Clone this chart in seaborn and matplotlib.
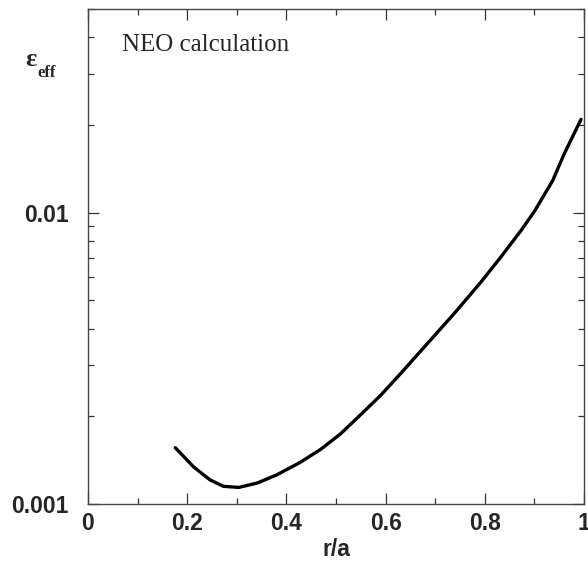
import matplotlib
matplotlib.use("Agg")
import matplotlib.pyplot as plt
import seaborn as sns
import numpy as np
import pandas as pd
from matplotlib.ticker import FixedLocator, LogLocator, NullFormatter, FixedFormatter

# data
r_a = [0.176, 0.213, 0.246, 0.273, 0.304, 0.341, 0.381, 0.428, 0.469, 0.509,
       0.549, 0.590, 0.630, 0.684, 0.738, 0.792, 0.832, 0.873, 0.900, 0.937,
       0.960, 0.994]
eps_eff = [0.00156, 0.00134, 0.00121, 0.00115, 0.00114, 0.00118, 0.00126,
           0.00139, 0.00154, 0.00174, 0.00202, 0.00236, 0.00280, 0.00355,
           0.00450, 0.00577, 0.00703, 0.00868, 0.0101, 0.0129, 0.0159, 0.0209]
x_ticks = [0, 0.2, 0.4, 0.6, 0.8, 1.0]
x_ticklabels = ["0", "0.2", "0.4", "0.6", "0.8", "1"]
y_ticks = [0.001, 0.01]
y_ticklabels = ["0.001", "0.01"]

df = pd.DataFrame({"r/a": r_a, "eps": eps_eff})

sns.set_style("ticks")
plt.rcParams["font.family"] = ["Liberation Sans", "DejaVu Sans"]

fig = plt.figure(figsize=(5.88, 5.63), dpi=100)
ax = fig.add_axes([88/588, 59/563, 496/588, 495/563])

sns.lineplot(data=df, x="r/a", y="eps", color="black", linewidth=2.4, ax=ax)
ax.set_yscale("log")
ax.set_xlim(0, 1)
ax.set_ylim(0.001, 0.05)

ax.xaxis.set_major_locator(FixedLocator(x_ticks))
ax.xaxis.set_major_formatter(FixedFormatter(x_ticklabels))
ax.xaxis.set_minor_locator(FixedLocator([0.1, 0.3, 0.5, 0.7, 0.9]))
ax.yaxis.set_major_locator(FixedLocator(y_ticks))
ax.yaxis.set_major_formatter(FixedFormatter(y_ticklabels))
ax.yaxis.set_minor_locator(LogLocator(base=10, subs=np.arange(2, 10)))
ax.yaxis.set_minor_formatter(NullFormatter())

ax.tick_params(which="both", direction="in", top=True, right=True,
               color="#333333", width=0.9)
ax.tick_params(which="major", length=8, labelsize=16.5)
ax.tick_params(which="minor", length=4)
ax.tick_params(axis="x", which="major", pad=6)
ax.tick_params(axis="y", which="major", pad=14)
for lab in ax.get_xticklabels() + ax.get_yticklabels():
    lab.set_fontweight("bold")

for s in ax.spines.values():
    s.set_visible(True)
    s.set_color("#444444")
    s.set_linewidth(1.0)

ax.set_xlabel("r/a", fontsize=16.5, fontweight="bold", labelpad=2)
ax.set_ylabel("")

serif = ["Liberation Serif", "DejaVu Serif"]
fig.text(122/588, 1 - 45/563, "NEO calculation", fontsize=18, family=serif,
         va="center", ha="left")
fig.text(25/588, 1 - 59/563, "ε", fontsize=19, family=serif,
         fontweight="bold", ha="left", va="center")
fig.text(37/588, 1 - 73/563, "eff", fontsize=12, family=serif,
         fontweight="bold", ha="left", va="center")

fig.savefig("out.png", dpi=100)
